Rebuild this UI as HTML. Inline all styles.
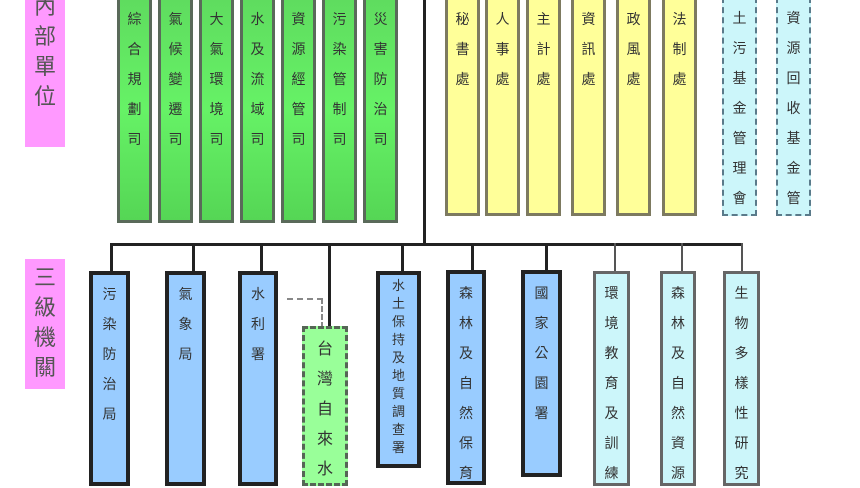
<!DOCTYPE html>
<html><head><meta charset="utf-8"><style>
body{margin:0;width:860px;height:480px;overflow:hidden;background:#fff;position:relative;font-family:"Liberation Sans","Noto Sans CJK TC",sans-serif}
.b{position:absolute;box-sizing:border-box;text-align:center;color:#333;font-size:14px;line-height:30px;padding-top:4px}
.g{background:linear-gradient(#5fdc5f,#66f266 50%,#55d655);border:3px solid #5a6a5a}
.y{background:#ffff99;border:3px solid #7d7a60;padding-top:4px}
.c{background:#ccf6fa;border:2px dashed #5a7a8a}
.bl{background:#99ccff;border:4px solid #222}
.lc{background:#ccf6fa;border:3px solid #666}
.p{position:absolute;background:#ff99ff;color:#555;font-size:22px;line-height:30px;text-align:center;width:40px}
.l{position:absolute;background:#222}
</style></head><body>
<div class="p" style="left:25px;top:-8px;height:155px">內<br>部<br>單<br>位</div>
<div class="p" style="left:25px;top:259px;height:130px;padding-top:4px;box-sizing:border-box">三<br>級<br>機<br>關</div>

<div class="b g" style="left:117px;top:-3px;width:35px;height:226px">綜<br>合<br>規<br>劃<br>司</div>
<div class="b g" style="left:158px;top:-3px;width:35px;height:226px">氣<br>候<br>變<br>遷<br>司</div>
<div class="b g" style="left:199px;top:-3px;width:35px;height:226px">大<br>氣<br>環<br>境<br>司</div>
<div class="b g" style="left:240px;top:-3px;width:35px;height:226px">水<br>及<br>流<br>域<br>司</div>
<div class="b g" style="left:281px;top:-3px;width:35px;height:226px">資<br>源<br>經<br>管<br>司</div>
<div class="b g" style="left:322px;top:-3px;width:35px;height:226px">污<br>染<br>管<br>制<br>司</div>
<div class="b g" style="left:363px;top:-3px;width:35px;height:226px">災<br>害<br>防<br>治<br>司</div>

<div class="l" style="left:423px;top:0;width:3px;height:246px"></div>

<div class="b y" style="left:445px;top:-3px;width:35px;height:219px">秘<br>書<br>處</div>
<div class="b y" style="left:485px;top:-3px;width:35px;height:219px">人<br>事<br>處</div>
<div class="b y" style="left:526px;top:-3px;width:35px;height:219px">主<br>計<br>處</div>
<div class="b y" style="left:571px;top:-3px;width:35px;height:219px">資<br>訊<br>處</div>
<div class="b y" style="left:616px;top:-3px;width:35px;height:219px">政<br>風<br>處</div>
<div class="b y" style="left:662px;top:-3px;width:35px;height:219px">法<br>制<br>處</div>
<div class="b c" style="left:722px;top:-3px;width:35px;height:219px">土<br>污<br>基<br>金<br>管<br>理<br>會</div>
<div class="b c" style="left:776px;top:-3px;width:35px;height:219px">資<br>源<br>回<br>收<br>基<br>金<br>管</div>

<div class="l" style="left:110px;top:243px;width:633px;height:3px"></div>
<div class="l" style="left:110px;top:243px;width:3px;height:30px"></div>
<div class="l" style="left:192px;top:243px;width:3px;height:30px"></div>
<div class="l" style="left:260px;top:243px;width:3px;height:30px"></div>
<div class="l" style="left:328px;top:243px;width:3px;height:85px"></div>
<div class="l" style="left:401px;top:243px;width:3px;height:30px"></div>
<div class="l" style="left:471px;top:243px;width:3px;height:30px"></div>
<div class="l" style="left:545px;top:243px;width:3px;height:30px"></div>
<div class="l" style="left:614px;top:243px;width:2px;height:30px;background:#555"></div>
<div class="l" style="left:681px;top:243px;width:2px;height:30px;background:#555"></div>
<div class="l" style="left:741px;top:243px;width:2px;height:30px;background:#555"></div>

<div style="position:absolute;left:287px;top:298px;width:34px;height:28px;border-top:2px dashed #888;border-right:2px dashed #888"></div>

<div class="b bl" style="left:89px;top:271px;width:41px;height:215px">污<br>染<br>防<br>治<br>局</div>
<div class="b bl" style="left:165px;top:271px;width:41px;height:215px">氣<br>象<br>局</div>
<div class="b bl" style="left:238px;top:271px;width:40px;height:215px">水<br>利<br>署</div>
<div class="b" style="left:302px;top:326px;width:46px;height:160px;background:#99ff99;border:3px dashed #556655;padding-top:6px;font-size:16px;line-height:30px">台<br>灣<br>自<br>來<br>水</div>
<div class="b bl" style="left:376px;top:271px;width:45px;height:197px;font-size:13px;line-height:18px;padding-top:2px">水<br>土<br>保<br>持<br>及<br>地<br>質<br>調<br>查<br>署</div>
<div class="b bl" style="left:446px;top:270px;width:40px;height:215px">森<br>林<br>及<br>自<br>然<br>保<br>育</div>
<div class="b bl" style="left:521px;top:270px;width:41px;height:207px">國<br>家<br>公<br>園<br>署</div>
<div class="b lc" style="left:593px;top:271px;width:37px;height:215px">環<br>境<br>教<br>育<br>及<br>訓<br>練</div>
<div class="b lc" style="left:660px;top:271px;width:36px;height:215px">森<br>林<br>及<br>自<br>然<br>資<br>源</div>
<div class="b lc" style="left:723px;top:271px;width:37px;height:215px">生<br>物<br>多<br>樣<br>性<br>研<br>究</div>
</body></html>
